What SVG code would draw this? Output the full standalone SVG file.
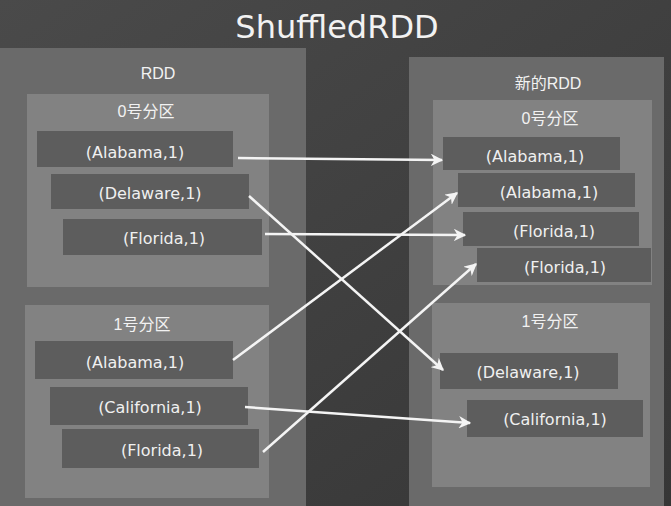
<svg xmlns="http://www.w3.org/2000/svg" width="671" height="506" viewBox="0 0 671 506">
<style>
.outer{fill:#6a6a6a}
.part{fill:#828282}
.item{fill:#5d5d5d}
.lbl{font-family:"Liberation Sans","Noto Sans CJK SC",sans-serif;font-size:16px;fill:#f2f2f2;text-anchor:middle}
.it{font-family:"DejaVu Sans","Noto Sans",sans-serif;font-size:16px;fill:#f0f0f0;text-anchor:middle}
.conn line{stroke:#f4f4f4;stroke-width:2.5;marker-end:url(#ah)}
</style>
<defs>
<marker id="ah" viewBox="0 0 10 10" refX="9" refY="5" markerWidth="5" markerHeight="5" orient="auto" markerUnits="strokeWidth">
<path d="M0,0 L10,5 L0,10 L3,5 Z" fill="#f4f4f4"/>
</marker>
<linearGradient id="bg" x1="0" y1="0" x2="1" y2="1">
<stop offset="0" stop-color="#4a4a4a"/>
<stop offset="1" stop-color="#363636"/>
</linearGradient>
</defs>
<rect width="671" height="506" fill="url(#bg)"/>
<text x="337" y="38" font-family="DejaVu Sans,sans-serif" font-size="32" fill="#f2f2f2" text-anchor="middle">ShuffledRDD</text>

<g id="rdd">
<rect class="outer" x="0" y="48" width="306" height="458"/>
<text class="lbl" x="158" y="79">RDD</text>
</g>
<g id="newrdd">
<rect class="outer" x="409" y="57" width="255" height="449"/>
<text class="lbl" x="548" y="89">新的RDD</text>
</g>

<g id="l0">
<rect class="part" x="27" y="94" width="242" height="193"/>
<text class="lbl" x="146" y="117">0号分区</text>
</g>
<g id="l0a"><rect class="item" x="37" y="131" width="196" height="36"/><text class="it" x="135" y="158">(Alabama,1)</text></g>
<g id="l0d"><rect class="item" x="51" y="174" width="198" height="35"/><text class="it" x="150" y="199">(Delaware,1)</text></g>
<g id="l0f"><rect class="item" x="63" y="219" width="199" height="36"/><text class="it" x="164" y="244">(Florida,1)</text></g>

<g id="l1">
<rect class="part" x="25" y="305" width="244" height="193"/>
<text class="lbl" x="142" y="330">1号分区</text>
</g>
<g id="l1a"><rect class="item" x="35" y="341" width="198" height="38"/><text class="it" x="135" y="368">(Alabama,1)</text></g>
<g id="l1c"><rect class="item" x="50" y="387" width="198" height="38"/><text class="it" x="150" y="413">(California,1)</text></g>
<g id="l1f"><rect class="item" x="62" y="429" width="197" height="39"/><text class="it" x="162" y="456">(Florida,1)</text></g>

<g id="r0">
<rect class="part" x="433" y="100" width="219" height="185"/>
<text class="lbl" x="550" y="124">0号分区</text>
</g>
<g id="r0a1"><rect class="item" x="443" y="137" width="177" height="33"/><text class="it" x="535" y="162">(Alabama,1)</text></g>
<g id="r0a2"><rect class="item" x="458" y="173" width="177" height="34"/><text class="it" x="549" y="198">(Alabama,1)</text></g>
<g id="r0f1"><rect class="item" x="463" y="212" width="176" height="34"/><text class="it" x="554" y="237">(Florida,1)</text></g>
<g id="r0f2"><rect class="item" x="477" y="248" width="174" height="34"/><text class="it" x="565" y="273">(Florida,1)</text></g>

<g id="r1">
<rect class="part" x="432" y="303" width="218" height="184"/>
<text class="lbl" x="550" y="327">1号分区</text>
</g>
<g id="r1d"><rect class="item" x="440" y="353" width="178" height="36"/><text class="it" x="528" y="378">(Delaware,1)</text></g>
<g id="r1c"><rect class="item" x="467" y="400" width="176" height="37"/><text class="it" x="555" y="425">(California,1)</text></g>

<g id="connectors" class="conn">
<line x1="238" y1="158" x2="442" y2="160"/>
<line x1="249" y1="196" x2="443" y2="370"/>
<line x1="265" y1="234" x2="465" y2="235"/>
<line x1="233" y1="360" x2="457" y2="193"/>
<line x1="245" y1="407" x2="470" y2="423"/>
<line x1="263" y1="452" x2="476" y2="264"/>
</g>
</svg>
